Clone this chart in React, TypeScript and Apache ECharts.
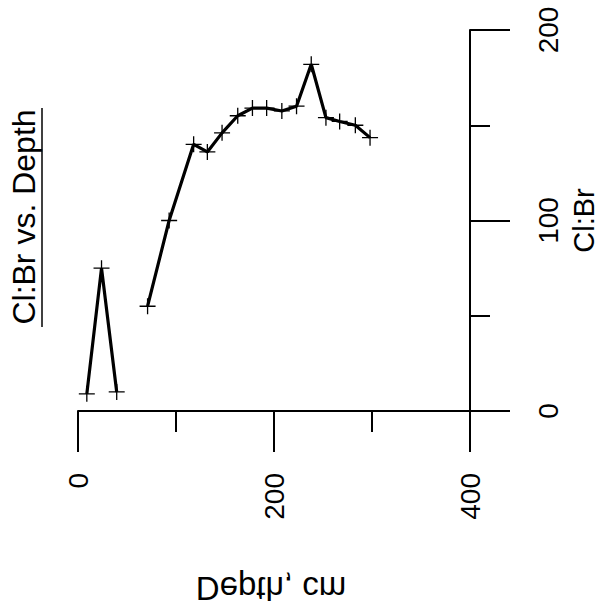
import React, { useEffect, useRef } from "react";
import * as echarts from "echarts";

const depthA: number[] = [9, 24, 39.5];
const ratioA: number[] = [9, 75, 10];
const depthB: number[] = [71, 93, 118, 132, 147, 163, 178, 192.5, 208, 223, 238, 253, 267, 283, 298];
const ratioB: number[] = [55, 100, 140, 136, 146, 155, 159, 159, 157.5, 160, 182, 154, 152, 150, 143.5];
const xTicks = { min: 0, max: 400, interval: 200 };
const yTicks = { min: 0, max: 200, interval: 100 };
const titleText = "Cl:Br vs. Depth";
const xName = "Depth, cm";
const yName = "Cl:Br";

const FONT = "'Liberation Sans', Arial, Helvetica, sans-serif";

export default function App() {
  const ref = useRef<HTMLDivElement>(null);
  useEffect(() => {
    document.body.style.margin = "0";
    if (!ref.current) return;
    const chart = echarts.init(ref.current, undefined, { renderer: "svg", width: 599, height: 612 });
    const plus = "path://M0,7H14M7,0V14";
    const mkSeries = (xs: number[], ys: number[]) => ({
      type: "line",
      data: xs.map((x, i) => [x, ys[i]]),
      symbol: plus,
      symbolSize: 16,
      showSymbol: true,
      itemStyle: { color: "#000", borderColor: "#000", borderWidth: 1.3 },
      lineStyle: { color: "#000", width: 3.2 },
      silent: true,
    });
    chart.setOption({
      animation: false,
      backgroundColor: "#fff",
      grid: {
        left: 78,
        right: 129,
        top: 30,
        bottom: 201,
        containLabel: false,
        outerBoundsMode: "none",
      },
      xAxis: {
        type: "value",
        min: xTicks.min,
        max: xTicks.max,
        interval: xTicks.interval,
        axisLine: { show: true, onZero: false, lineStyle: { color: "#000", width: 2 } },
        axisTick: { show: true, length: 41, lineStyle: { color: "#000", width: 2 } },
        minorTick: { show: true, splitNumber: 2, length: 21, lineStyle: { color: "#000", width: 2 } },
        splitLine: { show: false },
        minorSplitLine: { show: false },
        axisLabel: { rotate: 90, margin: 62, fontSize: 28, color: "#000", fontFamily: FONT },
      },
      yAxis: {
        type: "value",
        position: "right",
        min: yTicks.min,
        max: yTicks.max,
        interval: yTicks.interval,
        axisLine: { show: true, onZero: false, lineStyle: { color: "#000", width: 2 } },
        axisTick: { show: true, length: 40, lineStyle: { color: "#000", width: 2 } },
        minorTick: { show: true, splitNumber: 2, length: 20, lineStyle: { color: "#000", width: 2 } },
        splitLine: { show: false },
        minorSplitLine: { show: false },
        axisLabel: { rotate: 90, margin: 64, fontSize: 28, color: "#000", fontFamily: FONT },
        name: yName,
        nameLocation: "middle",
        nameRotate: 90,
        nameGap: 93,
        nameTextStyle: { fontSize: 29, color: "#000", fontFamily: FONT },
      },
      graphic: [
        {
          type: "text",
          x: 24,
          y: 217,
          rotation: Math.PI / 2,
          style: {
            text: titleText,
            fontSize: 32,
            fontFamily: FONT,
            fill: "#000",
            textAlign: "center",
            textVerticalAlign: "middle",
          },
        },
        {
          type: "line",
          shape: { x1: 42, y1: 108, x2: 42, y2: 327 },
          style: { stroke: "#000", lineWidth: 1.5 },
        },
        {
          type: "text",
          x: 271,
          y: 588,
          scaleY: -1,
          style: {
            text: xName,
            fontSize: 33,
            fontFamily: FONT,
            fill: "#000",
            textAlign: "center",
            textVerticalAlign: "middle",
          },
        },
      ],
      series: [mkSeries(depthA, ratioA), mkSeries(depthB, ratioB)],
    });
    return () => chart.dispose();
  }, []);
  return <div ref={ref} style={{ width: 599, height: 612 }} />;
}
